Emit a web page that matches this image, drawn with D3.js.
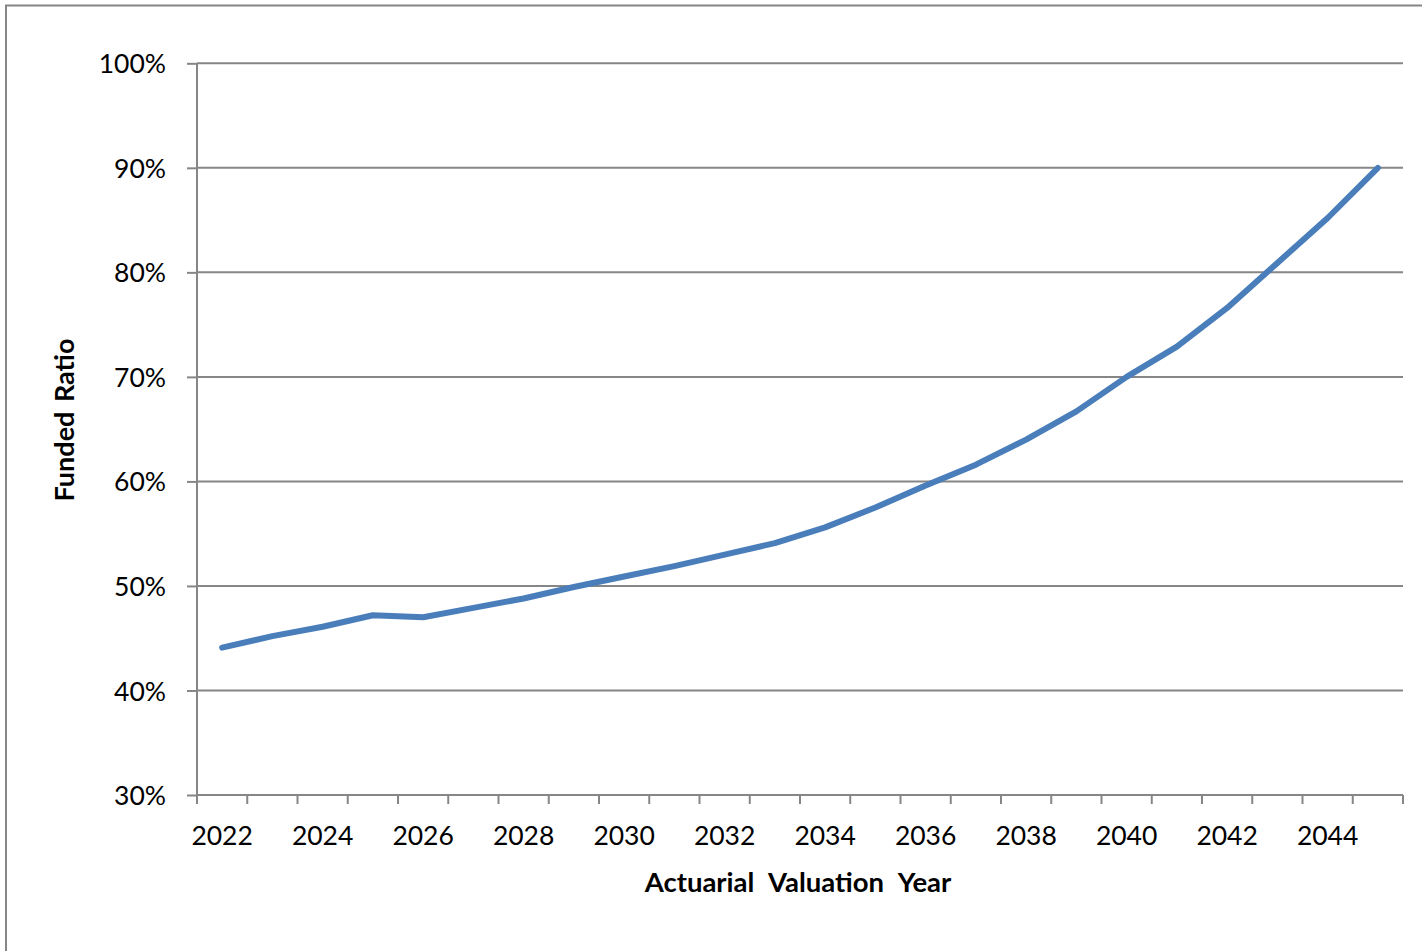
<!DOCTYPE html>
<html>
<head>
<meta charset="utf-8">
<script src="https://cdn.jsdelivr.net/npm/d3@7"></script>
<style>
  html, body { margin: 0; padding: 0; background: #fff; }
  svg { display: block; }
  text { font-family: Lato, "Open Sans", sans-serif; fill: #000; }
</style>
</head>
<body>
<svg id="chart" width="1422" height="951"></svg>
<script>
const years = [2022,2023,2024,2025,2026,2027,2028,2029,2030,2031,2032,2033,2034,2035,2036,2037,2038,2039,2040,2041,2042,2043,2044,2045];
const fundedRatio = [44.1,45.2,46.1,47.2,47.0,47.9,48.8,49.9,50.9,51.9,53.0,54.1,55.6,57.5,59.6,61.6,64.0,66.7,70.0,72.9,76.6,80.9,85.2,90.0];
const yTicks = [30,40,50,60,70,80,90,100];
const xLabelYears = [2022,2024,2026,2028,2030,2032,2034,2036,2038,2040,2042,2044];
const xTitle = "Actuarial Valuation Year";
const yTitle = "Funded Ratio";

(function () {
const svg = d3.select("#chart");
const pL = 197, pR = 1403, pT = 63.3, pB = 795;
const gray = "#868686";
const fs = "26.5px";

// outer chart border
svg.append("rect").attr("x", 6).attr("y", 5.5).attr("width", 1440).attr("height", 980)
  .attr("fill", "none").attr("stroke", gray).attr("stroke-width", 2);

const x = d3.scaleBand().domain(years).range([pL, pR]).paddingInner(0).paddingOuter(0);
const y = d3.scaleLinear().domain([30, 100]).range([pB, pT]);

// gridlines
svg.append("g").selectAll("line").data(yTicks.filter(t => t > 30)).join("line")
  .attr("x1", pL).attr("x2", pR)
  .attr("y1", d => y(d)).attr("y2", d => y(d))
  .attr("stroke", gray).attr("stroke-width", 2);

// y axis
const yAxis = d3.axisLeft(y).tickValues(yTicks).tickSize(10).tickPadding(21)
  .tickFormat(d => d + "%");
const gy = svg.append("g").attr("transform", `translate(${pL},0)`).call(yAxis);
gy.select(".domain").attr("stroke", gray).attr("stroke-width", 2).attr("d", `M0,${pT}V${pB}`);
gy.selectAll(".tick line").attr("stroke", gray).attr("stroke-width", 2);
gy.selectAll(".tick text").style("font-family", "Lato, sans-serif").style("font-size", fs).attr("fill", "#000").attr("dy", "0.36em");

// x axis: boundary ticks
const gx = svg.append("g");
gx.append("line").attr("x1", pL).attr("x2", pR).attr("y1", pB).attr("y2", pB)
  .attr("stroke", gray).attr("stroke-width", 2);
const boundaries = years.map(d => x(d)).concat([x(years[years.length - 1]) + x.bandwidth()]);
gx.selectAll("line.tk").data(boundaries).join("line").attr("class", "tk")
  .attr("x1", d => d).attr("x2", d => d).attr("y1", pB).attr("y2", pB + 9)
  .attr("stroke", gray).attr("stroke-width", 2);
gx.selectAll("text").data(xLabelYears).join("text")
  .attr("x", d => x(d) + x.bandwidth() / 2).attr("y", 845)
  .attr("text-anchor", "middle").style("font-size", fs).text(d => d);

// line
const line = d3.line().x((d, i) => x(years[i]) + x.bandwidth() / 2).y(d => y(d));
svg.append("path").datum(fundedRatio).attr("d", line)
  .attr("fill", "none").attr("stroke", "#4a7ebb").attr("stroke-width", 6)
  .attr("stroke-linejoin", "round").attr("stroke-linecap", "round");

// titles
svg.append("text").attr("x", 798).attr("y", 892).attr("text-anchor", "middle")
  .style("font-size", "27.5px").style("font-weight", "bold").style("word-spacing", "8px").text(xTitle);
svg.append("text").attr("transform", "translate(74,420) rotate(-90)").attr("text-anchor", "middle")
  .style("font-size", "27px").style("font-weight", "bold").style("word-spacing", "3px").text(yTitle);
})();
</script>
</body>
</html>
